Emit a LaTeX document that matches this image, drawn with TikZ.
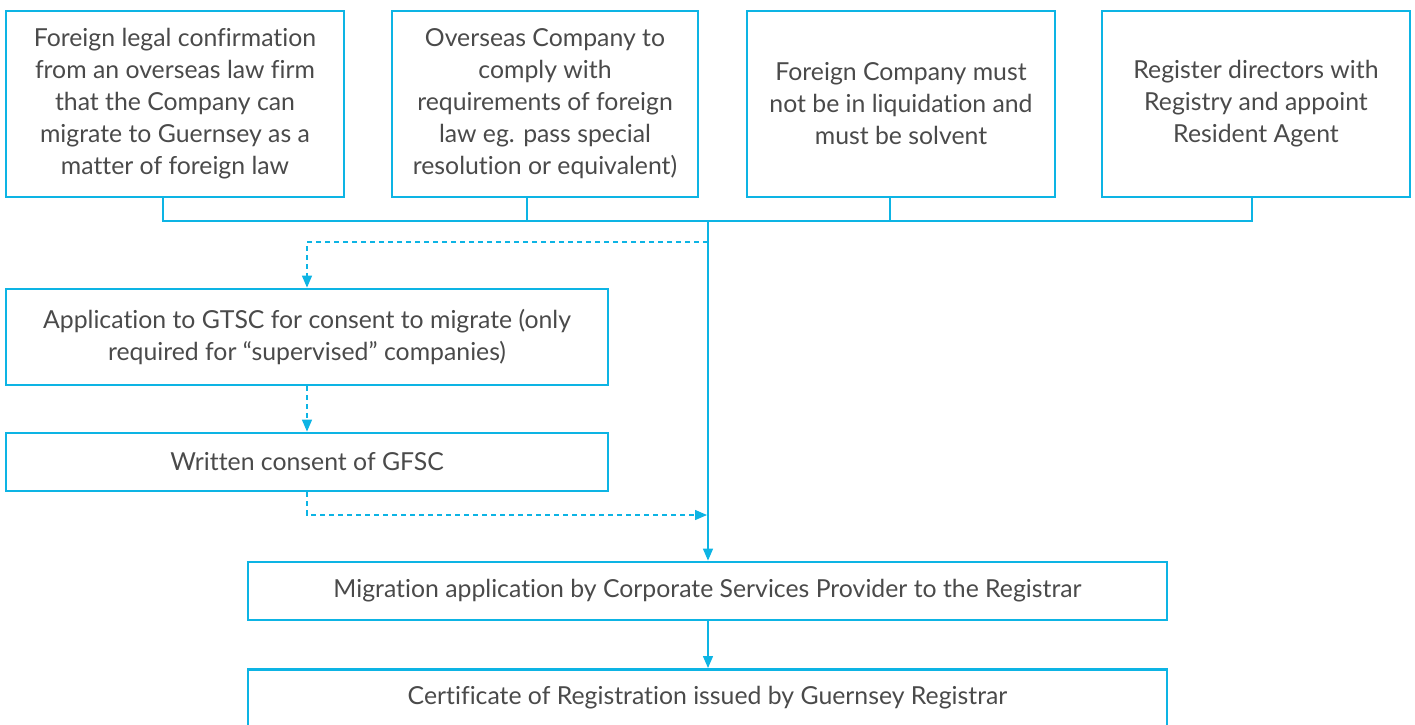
\documentclass[tikz,border=0pt]{standalone}
\usepackage{fontspec}
\setmainfont{Lato}[Ligatures=NoCommon]
\usetikzlibrary{arrows.meta}
\definecolor{bl}{HTML}{0DB4E4}
\definecolor{tx}{HTML}{4A4A4A}
\begin{document}
\begin{tikzpicture}[x=1pt,y=-1pt,
  box/.style={draw=bl,line width=2.8pt,rectangle,inner sep=0pt,text=tx,align=center,font=\fontsize{24.8}{32}\selectfont},
  ln/.style={draw=bl,line width=1.4pt},
  arr/.style={-{Triangle[length=12pt,width=10pt]}},
  dsh/.style={dash pattern=on 5pt off 4pt}]
\useasboundingbox (0,0) rectangle (1415,724);
\clip (0,0) rectangle (1415,724);
\node[box,minimum width=338pt,minimum height=186pt] (t1) at (175,104) {Foreign legal confirmation\\from an overseas law firm\\that the Company can\\migrate to Guernsey as a\\matter of foreign law};
\node[box,minimum width=306pt,minimum height=186pt] (t2) at (545,104) {Overseas Company to\\comply with\\requirements of foreign\\law eg. pass special\\resolution or equivalent)};
\node[box,minimum width=308pt,minimum height=186pt] (t3) at (901,104) {Foreign Company must\\not be in liquidation and\\must be solvent};
\node[box,minimum width=308pt,minimum height=186pt] (t4) at (1256,104) {Register directors with\\Registry and appoint\\Resident Agent};
\node[box,minimum width=602pt,minimum height=96pt] (app) at (307,337) {Application to GTSC for consent to migrate (only\\required for “supervised” companies)};
\node[box,minimum width=602pt,minimum height=58pt] (wc) at (307,462) {Written consent of GFSC};
\node[box,minimum width=919pt,minimum height=58pt] (mig) at (707.5,591) {Migration application by Corporate Services Provider to the Registrar};
\node[box,minimum width=919pt,minimum height=104pt,anchor=north] (cert) at (707.5,668) {};
\node[text=tx,font=\fontsize{24.8}{32}\selectfont] (certt) at (707.5,698) {Certificate of Registration issued by Guernsey Registrar};
\coordinate (c1) at (163,221);
\coordinate (c2) at (527,221);
\coordinate (c3) at (890,221);
\coordinate (c4) at (1252,221);
\coordinate (cm) at (708,221);
\coordinate (cd) at (708,242);
\coordinate (cw) at (307,515);
\coordinate (ce) at (707,515);
\draw[ln] (t1.south -| c1) -- (c1) -- (c4) -- (t4.south -| c4);
\draw[ln] (t2.south -| c2) -- (c2);
\draw[ln] (t3.south -| c3) -- (c3);
\draw[ln,arr] (cm) -- (mig.north -| cm);
\draw[ln,arr,dsh] (cd) -| (app.north);
\draw[ln,arr,dsh] (app.south) -- (wc.north);
\draw[ln,arr,dsh] (wc.south) |- (ce);
\draw[ln,arr] (mig.south -| cm) -- (cert.north -| cm);
\end{tikzpicture}
\end{document}
